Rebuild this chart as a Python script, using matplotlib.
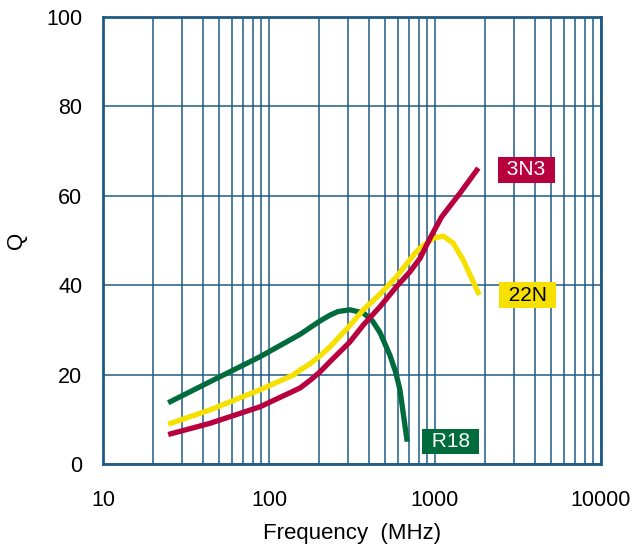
import matplotlib
matplotlib.use("Agg")
import matplotlib.pyplot as plt
from matplotlib.ticker import LogLocator, FixedLocator, NullFormatter, FixedFormatter

plt.rcParams['font.family'] = ['Liberation Sans', 'DejaVu Sans']

# Data (frequency MHz, Q)
f_3n3 = [24.7, 44.1, 88.3, 153.8, 176.6, 202.8, 233, 307, 370, 466.5, 587, 706, 812, 933, 1097, 1415, 1824]
q_3n3 = [6.6, 9.1, 12.8, 17.0, 18.7, 20.6, 22.9, 27.3, 31.1, 35.2, 39.7, 43.0, 46.0, 50.5, 55.3, 60.6, 66.2]

f_22n = [24.7, 44.1, 88.3, 140, 153.8, 176.6, 202.8, 233, 307, 370, 466.5, 587, 756, 812, 978, 1122, 1288, 1481, 1848]
q_22n = [8.9, 12.1, 16.6, 19.9, 21.0, 22.4, 24.2, 26.2, 31.0, 34.5, 38.0, 41.9, 47.1, 48.3, 50.5, 51.0, 49.4, 45.6, 37.8]

f_r18 = [24.7, 44.1, 88.3, 153.8, 176.6, 202.8, 233, 260, 307, 370, 420, 466.5, 535.6, 580, 615, 680]
q_r18 = [13.7, 18.4, 24.0, 29.0, 30.5, 32.0, 33.3, 34.1, 34.5, 33.8, 32.0, 29.4, 24.3, 20.5, 16.6, 5.0]

series_names = ['3N3', '22N', 'R18']
series_colors = ['#b8003e', '#f5e000', '#006b3c']
label_f = [3556, 3606, 1239]
label_q = [65.8, 37.8, 5.0]
label_text_colors = ['white', 'black', 'white']

fig = plt.figure(figsize=(6.32, 5.55), dpi=100)
ax = fig.add_axes([103 / 632, (555 - 464) / 555, (601 - 103) / 632, (464 - 17) / 555])

grid_c = '#1f5b82'

ax.plot(f_r18, q_r18, color=series_colors[2], lw=3.8, solid_capstyle='butt',
        solid_joinstyle='round', zorder=3)
ax.plot(f_22n, q_22n, color=series_colors[1], lw=3.8, solid_capstyle='butt',
        solid_joinstyle='round', zorder=4)
ax.plot(f_3n3, q_3n3, color=series_colors[0], lw=3.8, solid_capstyle='butt',
        solid_joinstyle='round', zorder=5)

ax.set_xscale('log')
ax.set_xlim(10, 10000)
ax.set_ylim(0, 100)
ax.xaxis.set_major_locator(FixedLocator([10, 100, 1000, 10000]))
ax.xaxis.set_major_formatter(FixedFormatter(['10', '100', '1000', '10000']))
ax.xaxis.set_minor_locator(LogLocator(base=10, subs=range(2, 10)))
ax.xaxis.set_minor_formatter(NullFormatter())
ax.set_yticks([0, 20, 40, 60, 80, 100])
ax.grid(True, which='both', axis='x', color=grid_c, lw=1.1)
ax.grid(True, which='major', axis='y', color=grid_c, lw=1.1)
ax.tick_params(which='both', length=0, labelsize=15.5)
ax.tick_params(axis='x', pad=19)
ax.tick_params(axis='y', pad=15)
for s in ax.spines.values():
    s.set_color(grid_c)
    s.set_linewidth(2)
ax.set_axisbelow(True)

ax.set_xlabel('Frequency  (MHz)', fontsize=16, labelpad=8)
ax.set_ylabel('Q', fontsize=16, labelpad=14)

for name, c, lx, ly, tc in zip(series_names, series_colors, label_f, label_q, label_text_colors):
    ax.text(lx, ly, ' ' + name + ' ', color=tc, fontsize=15, ha='center', va='center', zorder=6,
            bbox=dict(boxstyle='square,pad=0.16', fc=c, ec='none'))

fig.savefig('out.png', dpi=100)
